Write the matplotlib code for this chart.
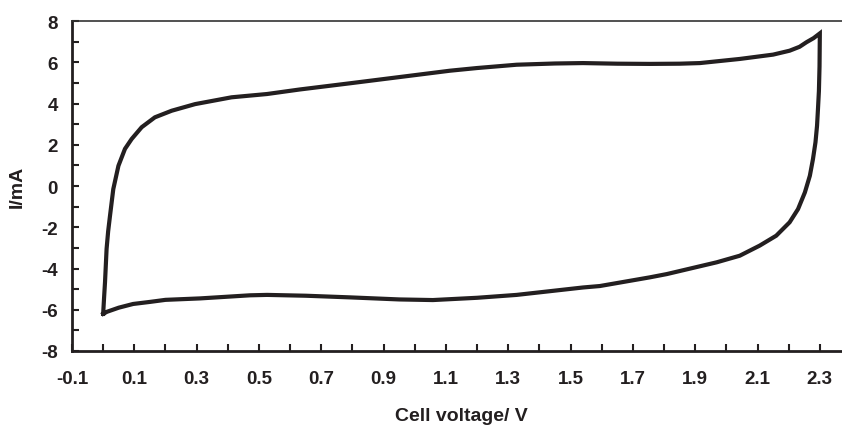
import matplotlib
matplotlib.use('Agg')
import matplotlib.pyplot as plt
from matplotlib.ticker import FixedLocator, FixedFormatter

plt.rcParams['font.family'] = ['Liberation Sans', 'DejaVu Sans']
plt.rcParams['font.weight'] = 'bold'

# forward (anodic) scan, 0 -> 2.3 V
v_fwd = [0.0, 0.003, 0.006, 0.011, 0.016, 0.022, 0.0325, 0.049, 0.07, 0.0915,
         0.1236, 0.166, 0.22, 0.295, 0.412, 0.526, 0.631, 0.792, 0.95,
         1.113, 1.2, 1.327, 1.45, 1.54, 1.65, 1.754, 1.85, 1.915, 2.043,
         2.15, 2.203, 2.235, 2.257, 2.28, 2.3]
i_fwd = [-6.2, -5.4, -4.65, -3.05, -2.2, -1.44, -0.15, 0.98, 1.8, 2.28,
         2.85, 3.33, 3.65, 3.97, 4.3, 4.46, 4.68, 4.98, 5.28,
         5.59, 5.72, 5.88, 5.94, 5.96, 5.93, 5.92, 5.93, 5.96, 6.16,
         6.37, 6.56, 6.75, 6.97, 7.17, 7.4]

# reverse (cathodic) scan, 2.3 -> 0 V
v_rev = [2.3, 2.299, 2.297, 2.294, 2.291, 2.286, 2.278, 2.268, 2.252, 2.23,
         2.203, 2.16, 2.107, 2.043, 1.969, 1.809, 1.754, 1.594, 1.54, 1.327,
         1.2, 1.058, 0.95, 0.792, 0.65, 0.526, 0.471, 0.311, 0.2, 0.15,
         0.096, 0.05, 0.012, 0.0]
i_rev = [7.4, 5.8, 4.6, 3.73, 2.92, 2.12, 1.31, 0.5, -0.31, -1.12,
         -1.76, -2.41, -2.89, -3.38, -3.7, -4.27, -4.43, -4.85, -4.92, -5.28,
         -5.42, -5.53, -5.5, -5.4, -5.32, -5.28, -5.3, -5.45, -5.52, -5.62,
         -5.72, -5.9, -6.1, -6.2]

x_ticks = [round(-0.1 + 0.1 * k, 1) for k in range(25)]
x_labels = [('%.1f' % t) if k % 2 == 0 else '' for k, t in enumerate(x_ticks)]
y_ticks = list(range(-8, 9))
y_labels = [str(t) if t % 2 == 0 else '' for t in y_ticks]

fig = plt.figure(figsize=(8.42, 4.27), dpi=100)
ax = fig.add_axes([72 / 842, 75 / 427, 779 / 842, 330 / 427])

ax.plot(v_fwd + v_rev, i_fwd + i_rev, color='#231f20', lw=3.0,
        solid_joinstyle='miter', clip_on=False)

ax.set_xlim(-0.1, 2.4)
ax.set_ylim(-8, 8)
ax.xaxis.set_major_locator(FixedLocator(x_ticks))
ax.xaxis.set_major_formatter(FixedFormatter(x_labels))
ax.yaxis.set_major_locator(FixedLocator(y_ticks))
ax.yaxis.set_major_formatter(FixedFormatter(y_labels))

ax.tick_params(axis='both', direction='in', length=5, width=1.5,
               color='#231f20', labelcolor='#231f20', labelsize=13.5)
ax.tick_params(axis='x', pad=14)
ax.tick_params(axis='y', pad=10)

for side in ['left', 'bottom']:
    ax.spines[side].set_linewidth(2.0)
    ax.spines[side].set_color('#231f20')
ax.spines['top'].set_linewidth(1.2)
ax.spines['top'].set_color('#333333')
ax.spines['right'].set_visible(False)

ax.set_xlabel('Cell voltage/ V', fontsize=14, fontweight='bold', color='#231f20')
ax.set_ylabel('I/mA', fontsize=14, fontweight='bold', color='#231f20')
ax.xaxis.set_label_coords(0.5, -0.17)
ax.yaxis.set_label_coords(-0.06, 0.5)

fig.savefig('out.png', dpi=100)
